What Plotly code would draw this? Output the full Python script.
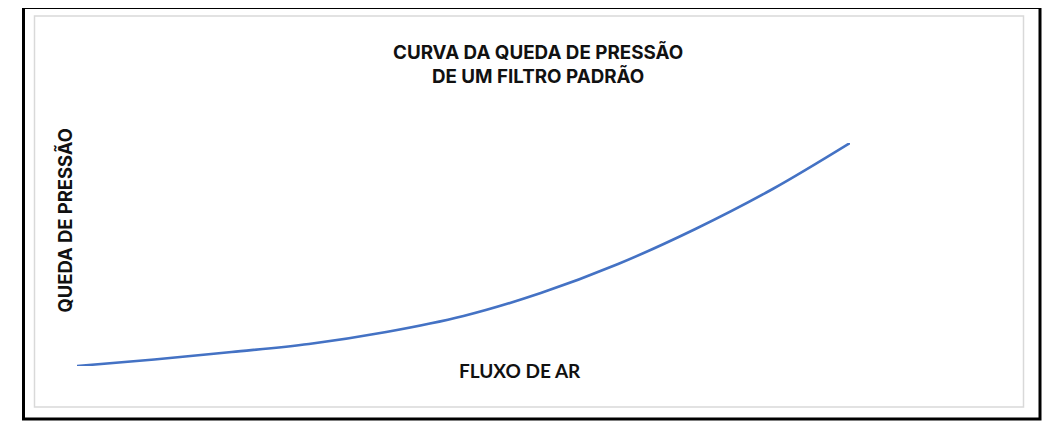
import plotly.graph_objects as go

# ------------------------------------------------------------
# data (arbitrary units, no scale shown)
# ------------------------------------------------------------
fluxo_ar = [0, 1, 2, 3, 4, 5, 6, 7, 8, 9, 10]
queda_pressao = [0, 6.5, 14, 22, 34, 50, 73, 102, 137, 177, 223]

titulo = "CURVA DA QUEDA DE PRESSÃO<br>DE UM FILTRO PADRÃO"
titulo_x = "FLUXO DE AR"
titulo_y = "QUEDA DE PRESSÃO"

# the page body has an 8px margin, so work in page pixels and shift
OFF = 8
W, H = 1056 - OFF, 432 - OFF
# plot area in page pixels
L, R, T, B = 77, 850, 143, 366


def px(x):
    return (x - L) / (R - L)


def py(y):
    return (B - y) / (B - T)


fig = go.Figure()

fig.add_trace(go.Scatter(
    x=fluxo_ar,
    y=queda_pressao,
    mode="lines",
    line=dict(color="#4472c4", width=2.6, shape="spline"),
    cliponaxis=False,
    hoverinfo="skip",
    showlegend=False,
))

# outer black frame and inner grey frame
fig.add_shape(type="rect", xref="paper", yref="paper",
              x0=px(23.5), x1=px(1040), y0=py(7.5), y1=py(419),
              line=dict(color="black", width=3))
fig.add_shape(type="rect", xref="paper", yref="paper",
              x0=px(34.5), x1=px(1023.5), y0=py(16), y1=py(407),
              line=dict(color="#d9d9d9", width=1.5))

fig.add_annotation(text="<b>" + titulo + "</b>", xref="paper", yref="paper",
                   x=px(538), y=py(64.5), showarrow=False,
                   font=dict(family="Inter", size=18.8, color="#111111"),
                   align="center", xanchor="center", yanchor="middle")
fig.add_annotation(text="<b>" + titulo_x + "</b>", xref="paper", yref="paper",
                   x=px(520), y=py(370.5), showarrow=False,
                   font=dict(family="Lato", size=19, color="#111111"),
                   xanchor="center", yanchor="middle")
fig.add_annotation(text="<b>" + titulo_y + "</b>", xref="paper", yref="paper",
                   x=px(64), y=py(220.5), showarrow=False, textangle=-90,
                   font=dict(family="Inter", size=18.4, color="#111111"),
                   xanchor="center", yanchor="middle")

fig.update_xaxes(range=[0, 10], visible=False)
fig.update_yaxes(range=[0, 223], visible=False)

fig.update_layout(
    width=W,
    height=H,
    margin=dict(l=L - OFF, r=1056 - R, t=T - OFF, b=432 - B),
    paper_bgcolor="white",
    plot_bgcolor="white",
)

fig.write_html("out.html")
